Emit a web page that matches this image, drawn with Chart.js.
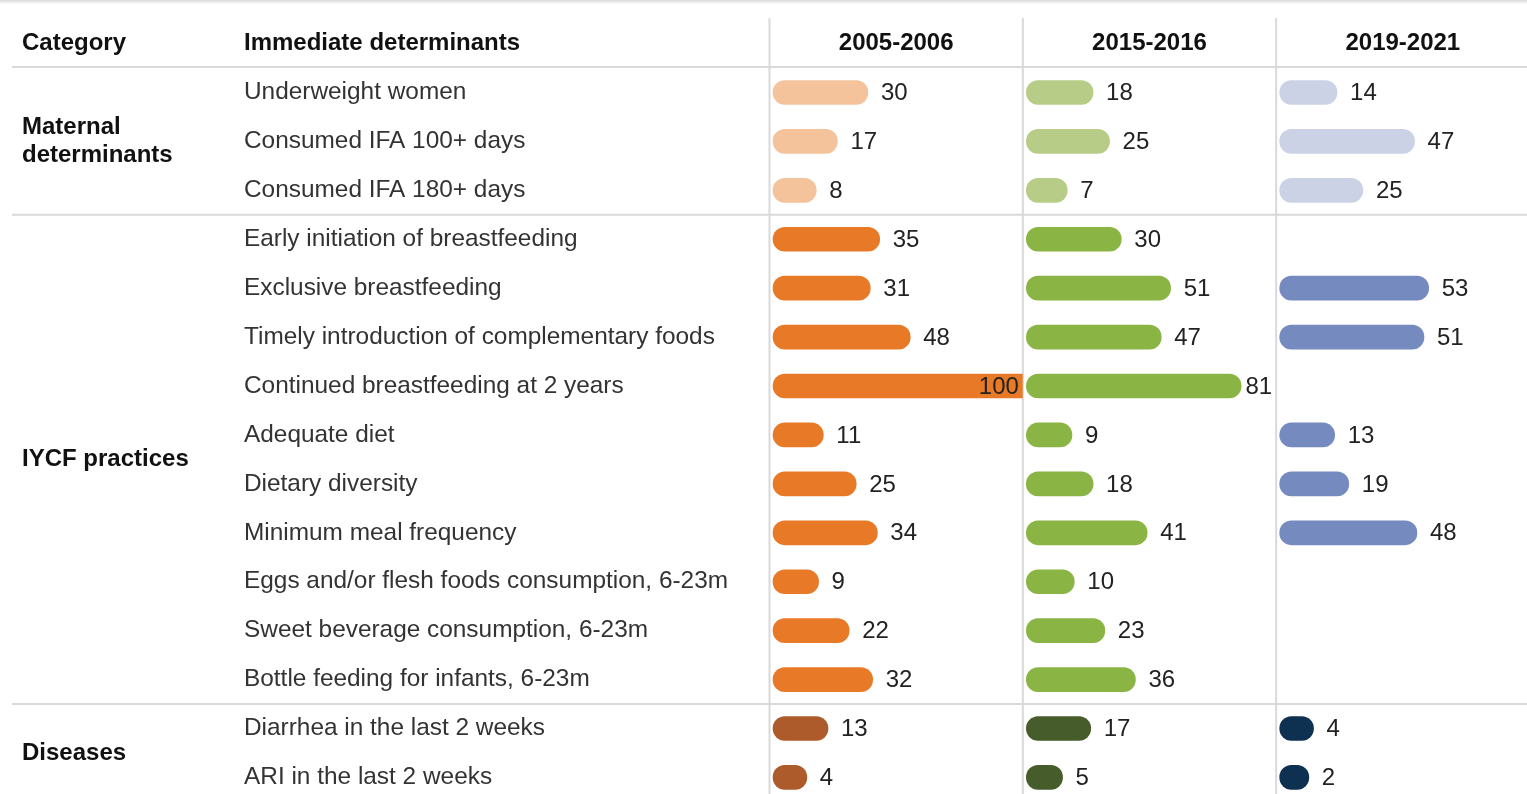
<!DOCTYPE html>
<html>
<head>
<meta charset="utf-8">
<script src="https://cdn.jsdelivr.net/npm/chart.js@4/dist/chart.umd.min.js"></script>
<style>
html,body{margin:0;padding:0;background:#fff;overflow:hidden;}
#wrap{position:absolute;left:0;top:0;width:1532px;height:820px;}
</style>
</head>
<body>
<div id="wrap"><canvas id="c" width="1532" height="820"></canvas></div>
<script>
// ---- data ----
const categories = [
  "Underweight women",
  "Consumed IFA 100+ days",
  "Consumed IFA 180+ days",
  "Early initiation of breastfeeding",
  "Exclusive breastfeeding",
  "Timely introduction of complementary foods",
  "Continued breastfeeding at 2 years",
  "Adequate diet",
  "Dietary diversity",
  "Minimum meal frequency",
  "Eggs and/or flesh foods consumption, 6-23m",
  "Sweet beverage consumption, 6-23m",
  "Bottle feeding for infants, 6-23m",
  "Diarrhea in the last 2 weeks",
  "ARI in the last 2 weeks"
];
const periods = ["2005-2006", "2015-2016", "2019-2021"];
const v2005 = [30, 17, 8, 35, 31, 48, 100, 11, 25, 34, 9, 22, 32, 13, 4];
const v2015 = [18, 25, 7, 30, 51, 47, 81, 9, 18, 41, 10, 23, 36, 17, 5];
const v2019 = [14, 47, 25, null, 53, 51, null, 13, 19, 48, null, null, null, 4, 2];
const groupNames = [["Maternal", "determinants"], ["IYCF practices"], ["Diseases"]];
const groupStart = [0, 3, 13];
const groupEnd = [2, 12, 14];
const headerCategory = "Category";
const headerDeterminants = "Immediate determinants";

// ---- styles ----
const palette = [
  ["#F5C39B", "#E87A27", "#AD5B2A"],
  ["#B7CD87", "#8AB443", "#465C2A"],
  ["#CBD2E6", "#758BC0", "#0E3152"]
];
const FONT = "'Liberation Sans', Arial, sans-serif";
const FS = 24;
const FS_LABEL = 24.4;
const gridColor = "#d9d9d9";

function groupOf(i){ for (let g = 0; g < groupStart.length; g++){ if (i >= groupStart[g] && i <= groupEnd[g]) return g; } return 0; }
function colorsFor(col){ return categories.map((_, i) => palette[col][groupOf(i)]); }

const xMin = -11.9, xMax = 95.9, barBase = -10.4;
const seriesList = [v2005, v2015, v2019];

const datasets = seriesList.map((vals, k) => ({
  label: periods[k],
  data: vals,
  xAxisID: 'x' + k,
  backgroundColor: colorsFor(k),
  base: barBase,
  grouped: false,
  barThickness: 24,
  borderSkipped: false,
  borderRadius: (ctx) => {
    const v = ctx.raw;
    if (v != null && v > xMax) return {topLeft: 12, bottomLeft: 12, topRight: 0, bottomRight: 0};
    return 12;
  }
}));

const xScale = (k) => ({
  type: 'linear', position: 'bottom', stack: 'cols', min: xMin, max: xMax,
  display: true,
  ticks: {display: false},
  grid: {display: false, drawTicks: false},
  border: {display: false},
  title: {display: false}
});

const clipPlugin = {
  id: 'colClip',
  beforeDatasetDraw(chart, args){
    const meta = chart.getDatasetMeta(args.index);
    const s = meta.xScale;
    const ctx = chart.ctx;
    ctx.save();
    ctx.beginPath();
    ctx.rect(s.left, chart.chartArea.top, s.right - s.left, chart.chartArea.bottom - chart.chartArea.top);
    ctx.clip();
  },
  afterDatasetDraw(chart){ chart.ctx.restore(); }
};

const tablePlugin = {
  id: 'tableDecor',
  beforeDatasetsDraw(chart){
    const ctx = chart.ctx;
    const y = chart.scales.y;
    ctx.save();
    // top shadow line
    const grad = ctx.createLinearGradient(0, 0, 0, 4);
    grad.addColorStop(0, "#d8d8d8");
    grad.addColorStop(1, "#ffffff");
    ctx.fillStyle = grad;
    ctx.fillRect(0, 0, chart.width, 4);
    ctx.strokeStyle = gridColor;
    ctx.lineWidth = 2;
    // horizontal lines
    const hl = [67];
    for (let g = 1; g < groupStart.length; g++){
      hl.push((y.getPixelForValue(groupStart[g] - 1) + y.getPixelForValue(groupStart[g])) / 2);
    }
    hl.forEach(py => { ctx.beginPath(); ctx.moveTo(12, py); ctx.lineTo(chart.width, py); ctx.stroke(); });
    // vertical lines
    for (let k = 0; k < 3; k++){
      const s = chart.scales['x' + k];
      ctx.beginPath(); ctx.moveTo(s.left, 18); ctx.lineTo(s.left, chart.height); ctx.stroke();
    }
    ctx.restore();
  },
  afterDraw(chart){
    const ctx = chart.ctx;
    const y = chart.scales.y;
    ctx.save();
    ctx.fillStyle = "#111";
    ctx.textBaseline = 'middle';
    ctx.font = "bold " + FS + "px " + FONT;
    ctx.textAlign = 'left';
    const hy = 43;
    ctx.fillText(headerCategory, 22, hy);
    ctx.fillText(headerDeterminants, 244, hy);
    ctx.textAlign = 'center';
    for (let k = 0; k < 3; k++){
      const s = chart.scales['x' + k];
      ctx.fillText(periods[k], (s.left + s.right) / 2, hy);
    }
    // group labels
    ctx.textAlign = 'left';
    for (let g = 0; g < groupNames.length; g++){
      const cy = (y.getPixelForValue(groupStart[g]) + y.getPixelForValue(groupEnd[g])) / 2;
      const lines = groupNames[g];
      const lh = 28;
      lines.forEach((t, i) => {
        ctx.fillText(t, 22, cy + (i - (lines.length - 1) / 2) * lh);
      });
    }
    ctx.restore();
  },
  afterDatasetsDraw(chart){
    const ctx = chart.ctx;
    ctx.save();
    ctx.font = FS + "px " + FONT;
    ctx.fillStyle = "#222";
    ctx.textBaseline = 'middle';
    ctx.textAlign = 'left';
    chart.data.datasets.forEach((ds, di) => {
      const meta = chart.getDatasetMeta(di);
      const s = meta.xScale;
      meta.data.forEach((el, i) => {
        const v = ds.data[i];
        if (v == null) return;
        const txt = String(v);
        const w = ctx.measureText(txt).width;
        let x = el.x + 13;
        if (x + w > s.right - 4) x = s.right - 4 - w;
        ctx.fillText(txt, x, el.y + 1);
      });
    });
    ctx.restore();
  }
};

new Chart(document.getElementById('c'), {
  type: 'bar',
  data: {labels: categories, datasets: datasets},
  options: {
    indexAxis: 'y',
    responsive: false,
    animation: false,
    devicePixelRatio: 1,
    layout: {padding: {top: 68, bottom: 18.1, left: 244, right: 2.5}},
    plugins: {legend: {display: false}, tooltip: {enabled: false}},
    scales: {
      x0: xScale(0), x1: xScale(1), x2: xScale(2),
      y: {
        type: 'category',
        position: 'left',
        offset: true,
        grid: {display: false, drawTicks: false},
        border: {display: false},
        ticks: {crossAlign: 'far', color: '#333', padding: 0, font: {family: FONT, size: FS_LABEL}},
        afterFit(scale){ scale.width = 769.5 - 244; }
      }
    }
  },
  plugins: [clipPlugin, tablePlugin]
});
</script>
</body>
</html>
